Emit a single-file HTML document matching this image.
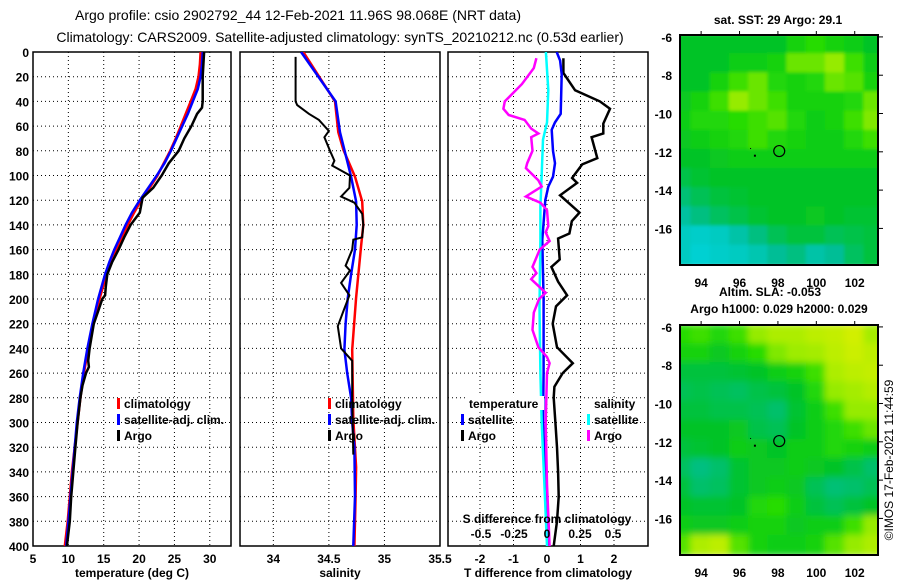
<!DOCTYPE html>
<html><head><meta charset="utf-8">
<style>
body{margin:0;background:#fff;}
svg{display:block;font-family:"Liberation Sans",sans-serif;}
.tk{font-size:12px;font-weight:bold;fill:#000;}
.tt{font-size:14px;fill:#000;}
</style></head>
<body>
<svg id="fig" width="900" height="580" viewBox="0 0 900 580">
<defs>
<clipPath id="c1"><rect x="33" y="52" width="198" height="494"/></clipPath>
<clipPath id="c2"><rect x="240" y="52" width="200" height="494"/></clipPath>
<clipPath id="c3"><rect x="448" y="52" width="200" height="494"/></clipPath>
<clipPath id="cm1"><rect x="680" y="35" width="198" height="230"/></clipPath>
<clipPath id="cm2"><rect x="680" y="325" width="198" height="231"/></clipPath>
<filter id="bl" x="-5%" y="-5%" width="110%" height="110%"><feGaussianBlur stdDeviation="3.5"/></filter>
<filter id="bl2" x="-5%" y="-5%" width="110%" height="110%"><feGaussianBlur stdDeviation="1.5"/></filter>
</defs>
<text class="tt" x="298" y="20" text-anchor="middle">Argo profile: csio 2902792_44 12-Feb-2021 11.96S 98.068E (NRT data)</text>
<text class="tt" x="340" y="42" text-anchor="middle">Climatology: CARS2009. Satellite-adjusted climatology: synTS_20210212.nc (0.53d earlier)</text>
<g id="g"></g>
</svg>
<script>
// ---- profile data (depth in m) ----
const tClimDepth=[0,10,20,30,40,50,60,70,80,90,100,110,120,130,140,150,160,170,180,190,200,220,240,260,280,300,320,340,360,380,400];
const tClim=[28.7,28.6,28.4,28.0,27.3,26.6,25.9,25.2,24.4,23.5,22.6,21.5,20.3,19.3,18.4,17.6,16.8,16.0,15.4,14.9,14.4,13.5,12.8,12.2,11.7,11.3,10.9,10.5,10.2,9.9,9.5];
const tSat=[29.0,28.9,28.7,28.3,27.6,26.9,26.1,25.3,24.5,23.6,22.5,21.3,20.1,19.0,18.1,17.3,16.5,15.8,15.2,14.7,14.2,13.4,12.7,12.1,11.6,11.2,10.9,10.6,10.3,10.0,9.7];
const tArgoDepth=[0,10,20,30,40,45,50,60,70,80,90,100,110,118,130,140,150,160,170,180,190,197,200,210,220,240,250,255,260,270,280,300,320,340,360,380,400];
const tArgo=[29.2,29.1,29.0,29.0,29.0,28.9,28.2,27.4,26.4,25.6,24.2,23.2,22.0,20.5,20.1,18.8,17.9,17.1,16.2,15.5,15.3,15.2,14.8,14.2,13.6,13.0,12.8,12.9,12.5,12.0,11.7,11.3,11.0,10.7,10.4,10.2,9.8];
const sClimDepth=[0,40,65,79,101,121,140,157,199,241,297,336,360,400];
const sClim=[34.27,34.555,34.585,34.63,34.735,34.80,34.81,34.79,34.745,34.71,34.72,34.745,34.74,34.73];
const sSatDepth=[0,40,65,101,121,140,160,180,199,220,241,260,280,300,320,360,400];
const sSat=[34.25,34.56,34.60,34.70,34.745,34.75,34.735,34.70,34.67,34.65,34.64,34.665,34.70,34.71,34.73,34.735,34.72];
const sArgoDepth=[4,40,43,50,55,64,69,80,88,92,100,110,117,122,131,140,150,152,160,173,177,187,197,210,222,240,250,280,326];
const sArgo=[34.2,34.2,34.215,34.32,34.41,34.5,34.46,34.51,34.55,34.53,34.69,34.685,34.61,34.73,34.80,34.81,34.80,34.72,34.71,34.65,34.69,34.61,34.685,34.63,34.58,34.61,34.71,34.71,34.72];
// differences
const dTArgoDepth=[5,17,31,40,46,58,66,69,86,91,102,106,116,130,137,147,151,168,174,186,197,206,220,239,252,260,271,280,300,320,340,360,380,400];
const dTArgo=[0.49,0.49,0.84,1.58,1.88,1.68,1.68,1.33,1.5,1.05,0.75,0.9,0.39,0.97,0.74,0.67,0.33,0.38,0.13,0.33,0.6,0.27,0.17,0.3,0.77,0.47,0.22,0.2,0.25,0.3,0.33,0.35,0.3,0.2];
const dTSatDepth=[0,7,18,50,57,63,80,90,101,109,120,152,179,200,233,260,300,340,380,400];
const dTSat=[0.29,0.39,0.44,0.41,0.24,0.14,0.18,0.24,0.18,0.04,-0.05,-0.14,-0.12,-0.1,-0.1,-0.1,-0.12,-0.05,0,0.05];
const dSSatDepth=[0,31,57,71,99,125,152,206,260,300,350,400];
const dSSat=[-0.008,0.01,0.0,-0.03,-0.04,-0.05,-0.05,-0.057,-0.05,-0.04,-0.02,0.0];
const dSArgoDepth=[5,13,26,40,46,51,55,62,66,69,80,90,94,104,109,117,122,128,141,146,153,160,174,179,184,195,200,211,225,239,247,252,260,300,350,400];
const dSArgo=[-0.08,-0.1,-0.19,-0.32,-0.33,-0.29,-0.17,-0.12,-0.065,-0.12,-0.11,-0.15,-0.16,-0.065,-0.04,-0.16,-0.05,0,0.01,-0.01,0.02,-0.055,-0.11,-0.08,-0.12,-0.01,-0.06,-0.1,-0.11,-0.065,0.0,0.02,0.0,-0.01,0.0,0.02];
// tick labels
const depthTicks=[0,20,40,60,80,100,120,140,160,180,200,220,240,260,280,300,320,340,360,380,400];
const tTicks=[5,10,15,20,25,30];
const sTicks=["34","34.5","35","35.5"];
const dTTicks=["-2","-1","0","1","2"];
const dSTicks=["-0.5","-0.25","0","0.25","0.5"];
const lonTicks=[94,96,98,100,102];
const latTicks=[-6,-8,-10,-12,-14,-16];
// map grids: rows lat -6..-17, cols lon 93..103
const sstGrid=[
[2,2,2,2,2,2,2.3,2.5,2.3,2.2,2],
[2,2,2,2.2,2.2,2.3,2.8,2.8,3,2.6,2.2],
[2,2,2.3,2.6,2.8,2.4,2.3,2.4,2.8,2.7,2.3],
[2.1,2.3,2.6,3,2.8,2.6,2.3,2.3,2.3,2.4,2.8],
[2.2,2.4,2.4,2.5,2.6,2.7,2.4,2.2,2.3,2.6,2.9],
[2.1,2.2,2.3,2.4,2.6,2.4,2.3,2.2,2.2,2.4,2.6],
[2,2,2.1,2.2,2.2,2.2,2.2,2.2,2.2,2.2,2.2],
[1.7,1.9,2,2,2,2,2,2,2,2,2],
[1.3,1.6,1.8,1.9,2,2,2,2,2,2,2],
[0.9,1.2,1.5,1.7,1.9,2,2,2.1,2,1.9,1.9],
[0.5,0.4,0.5,0.8,1.2,1.6,1.8,1.8,1.6,1.7,1.8],
[0.5,0.3,0.4,0.5,0.7,1,1.2,0.8,1,1.5,1.8]];
const slaGrid=[
[2.5,2.6,2.4,2.6,3,3.3,3.3,3.5,3.6,3.8,3.2],
[2.3,2.3,2.1,2.3,2.5,2.9,3.1,3.2,3.5,3.7,3.5],
[1.8,1.8,1.8,1.9,2,2.2,2.3,2.6,3.3,3.5,3.6],
[1.6,1.7,1.6,1.5,1.7,1.8,2,2.4,3,3.2,3.4],
[1.8,1.8,1.7,1.7,1.6,1.4,1.9,2.2,2.6,3,3],
[2,2,2,2.1,1.7,1.6,2,2.2,2.4,2.6,2.8],
[1.8,1.9,2,2.2,2.1,2,2.2,2.2,2.4,2.3,2.2],
[1.5,1.2,1.4,1.9,2.1,2.1,2.2,2.1,2,1.7,1.4],
[1.8,1.4,1.5,1.9,2.1,2.2,2.1,1.6,1.3,1.4,1.6],
[2,1.9,1.9,2,2.4,2.5,2.2,1.8,1.6,1.8,2],
[2.2,2.1,2.1,2.2,2.3,2.3,2.1,2.2,2.2,2.6,3],
[2.7,3.3,3.5,2.7,2.3,2.2,2.2,2.3,2.7,3,3.3]];
const argoLon=98.068, argoLat=-11.96;

const NS="http://www.w3.org/2000/svg";
const G=document.getElementById('g');
function el(tag,attrs,parent,txt){const e=document.createElementNS(NS,tag);for(const k in attrs)e.setAttribute(k,attrs[k]);if(txt!==undefined)e.textContent=txt;(parent||G).appendChild(e);return e;}
const yD=d=>52+d*494/400;
const xT=t=>33+(t-5)*198/28;
const xS=s=>240+(s-33.7)*200/1.8;
const xDT=v=>547+v*33.5;
const xDS=v=>547+v*132;
const xLon=l=>680+(l-92.9)*19.2;
const yLat=l=>35+(-5.9-l)*19.15;

function panel(x0,w,name,vgrid){
  const g=el('g',{},G);
  
  
  depthTicks.forEach((d,i)=>{ if(i>0&&i<depthTicks.length-1){const l=el('line',{x1:x0,x2:x0+w,y1:yD(d),y2:yD(d),stroke:'#000','stroke-width':1,'stroke-dasharray':'1,3'},g);
    
    }});
  vgrid.forEach(x=>{const l=el('line',{x1:x,x2:x,y1:52,y2:546,stroke:'#000','stroke-width':1,'stroke-dasharray':'1,3'},g);
    
    });
  const r=el('rect',{x:x0,y:52,width:w,height:494,fill:'none',stroke:'#000','stroke-width':1.5},g);
  
  
  return g;
}
function line(xs,ds,fx,color,clip,name,wd){
  const pts=xs.map((v,i)=>fx(v).toFixed(1)+','+yD(ds[i]).toFixed(1)).join(' ');
  const p=el('polyline',{points:pts,fill:'none',stroke:color,'stroke-width':wd||2.5,'clip-path':'url(#'+clip+')','stroke-linejoin':'miter'});
  
  
}
function txt(x,y,s,anchor,cls,name){const t=el('text',{x:x,y:y,'text-anchor':anchor||'middle',class:cls||'tk'},G,s);
  
  return t;}
function legMark(x,y,color){const r=el('rect',{x:x,y:y-10,width:3,height:11,fill:color});
  
  }

// panel 1 temperature
panel(33,198,'temperature-panel',[10,15,20,25,30].map(xT));
depthTicks.forEach(d=>txt(29,yD(d)+5,String(d),'end','tk','depth-tick-label'));
tTicks.forEach(t=>txt(xT(t),563,String(t),'middle','tk','temp-tick-label'));
txt(132,577,'temperature (deg C)','middle','tk','temp-axis-title');
line(tClim,tClimDepth,xT,'#f00','c1','temp-climatology-line');
line(tSat,tClimDepth,xT,'#00f','c1','temp-satellite-line');
line(tArgo,tArgoDepth,xT,'#000','c1','temp-argo-line');
legMark(117,408,'#f00');txt(124,408,'climatology','start','tk','legend-climatology');
legMark(117,424,'#00f');txt(124,424,'satellite-adj. clim.','start','tk','legend-satellite');
legMark(117,440,'#000');txt(124,440,'Argo','start','tk','legend-argo');

// panel 2 salinity
panel(240,200,'salinity-panel',[34,34.5,35].map(xS));
sTicks.forEach(s=>txt(xS(+s),563,s,'middle','tk','salinity-tick-label'));
txt(340,577,'salinity','middle','tk','salinity-axis-title');
line(sClim,sClimDepth,xS,'#f00','c2','sal-climatology-line');
line(sSat,sSatDepth,xS,'#00f','c2','sal-satellite-line');
line(sArgo,sArgoDepth,xS,'#000','c2','sal-argo-line',2);
legMark(328,408,'#f00');txt(335,408,'climatology','start','tk','legend-climatology');
legMark(328,424,'#00f');txt(335,424,'satellite-adj. clim.','start','tk','legend-satellite');
legMark(328,440,'#000');txt(335,440,'Argo','start','tk','legend-argo');

// panel 3 differences
panel(448,200,'difference-panel',[-2,-1,0,1,2].map(xDT));
dTTicks.forEach(s=>txt(xDT(+s),563,s,'middle','tk','tdiff-tick-label'));
txt(548,577,'T difference from climatology','middle','tk','tdiff-axis-title');
line(dTArgo,dTArgoDepth,xDT,'#000','c3','tdiff-argo-line');
line(dTSat,dTSatDepth,xDT,'#00f','c3','tdiff-satellite-line');
line(dSSat,dSSatDepth,xDS,'#0ff','c3','sdiff-satellite-line');
line(dSArgo,dSArgoDepth,xDS,'#f0f','c3','sdiff-argo-line');
const bgL=el('rect',{x:466,y:396,width:78,height:14,fill:'#fff'});


txt(469,408,'temperature','start','tk','legend-temperature-header');
legMark(461,424,'#00f');txt(468,424,'satellite','start','tk','legend-t-satellite');
legMark(461,440,'#000');txt(468,440,'Argo','start','tk','legend-t-argo');
txt(594,408,'salinity','start','tk','legend-salinity-header');
legMark(587,424,'#0ff');txt(594,424,'satellite','start','tk','legend-s-satellite');
legMark(587,440,'#f0f');txt(594,440,'Argo','start','tk','legend-s-argo');
txt(547,523,'S difference from climatology','middle','tk','sdiff-axis-title');
dSTicks.forEach(s=>txt(xDS(+s),538,s,'middle','tk','sdiff-tick-label'));

// maps
function cmap(v){
  const stops=[[0,[0,215,235]],[1,[0,190,150]],[2,[0,195,40]],[2.5,[40,220,0]],[3,[150,235,0]],[4,[225,240,0]]];
  for(let i=1;i<stops.length;i++){ if(v<=stops[i][0]){const a=stops[i-1],b=stops[i];const f=(v-a[0])/(b[0]-a[0]);
    return 'rgb('+a[1].map((c,k)=>Math.round(c+(b[1][k]-c)*f)).join(',')+')';}}
  return 'rgb(225,240,0)';
}
function map(grid,top,clip,name,filt){
  const g=el('g',{'clip-path':'url(#'+clip+')'});
  
  
  const inner=el('g',{filter:'url(#'+filt+')'},g);
  const off=top-35;
  grid.forEach((row,r)=>row.forEach((v,c)=>{
    const cell=el('rect',{x:xLon(93+c-0.5)-1,y:yLat(-5.9-r)+off-1,width:21.2,height:21.2,fill:cmap(v)},inner);
    
    
  }));
  const fr=el('rect',{x:680,y:top,width:198,height:230,fill:'none',stroke:'#000','stroke-width':2});
  
  
  const m=el('circle',{cx:xLon(argoLon),cy:yLat(argoLat)+off,r:5.5,fill:'none',stroke:'#000','stroke-width':1.2});
  
  
  const d1=el('rect',{x:xLon(96.75),y:yLat(-12.15)+off,width:2,height:2,fill:'#000'});
  
  
  const d2=el('rect',{x:xLon(96.55),y:yLat(-11.8)+off,width:1,height:1,fill:'#000'});
  
  
  latTicks.forEach(l=>{const y=yLat(l)+off;txt(672,y+5,String(l),'end','tk','lat-tick-label');
    const t1=el('line',{x1:878,x2:883,y1:y,y2:y,stroke:'#000'});});
  lonTicks.forEach(l=>{const t=el('line',{x1:xLon(l),x2:xLon(l),y1:top-4,y2:top,stroke:'#000'});
    
    txt(xLon(l),top+252,String(l),'middle','tk','lon-tick-label');});
}
map(sstGrid,35,'cm1','sst-map','bl2');
map(slaGrid,325,'cm2','sla-map','bl');
txt(778,24,'sat. SST: 29 Argo: 29.1','middle','tk','sst-map-title');
txt(770,296,'Altim. SLA: -0.053','middle','tk','sla-label');
txt(779,313,'Argo h1000: 0.029 h2000: 0.029','middle','tk','steric-label');
const cr=txt(0,0,'\u00a9IMOS 17-Feb-2021 11:44:59','middle','tk','copyright-timestamp');
cr.setAttribute('style','font-weight:normal;font-size:12px');
cr.setAttribute('transform','translate(893,460) rotate(-90)');
</script>
</body></html>
